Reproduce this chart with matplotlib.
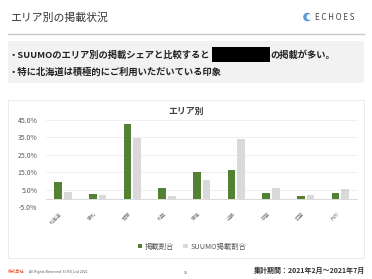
import matplotlib
matplotlib.use("Agg")
import matplotlib.pyplot as plt
import numpy as np
from matplotlib.patches import Rectangle, Circle

plt.rcParams['font.family'] = ['Noto Sans CJK JP', 'DejaVu Sans']

categories = ["北海道", "東北", "関東", "北陸", "東海", "近畿", "中国", "四国", "九州"]
share = [9.4, 2.7, 42.9, 6.3, 15.3, 16.4, 3.0, 1.3, 3.2]
suumo_share = [4.0, 1.9, 34.6, 1.5, 10.5, 34.1, 6.1, 2.1, 5.5]
yticks = [-5, 5, 15, 25, 35, 45]
legend_labels = ["掲載割合", "SUUMO掲載割合"]

W, H = 372, 279
fig = plt.figure(figsize=(W / 100, H / 100), dpi=100)

bg = fig.add_axes([0, 0, 1, 1])
bg.set_xlim(0, W)
bg.set_ylim(H, 0)
bg.axis('off')

# header
bg.text(10, 18, "エリア別の掲載状況", fontsize=7.8, color='#333333', va='center', ha='left')
bg.add_patch(Circle((307.5, 17), 3.6, color='#5b9bd5'))
bg.add_patch(Circle((309.5, 17), 2.2, color='white'))
bg.text(315, 17.5, "E C H O E S", fontsize=5.7, color='#444444', va='center', ha='left')
bg.plot([8, 364], [34, 34], color='#c8c8c8', lw=1)

# summary box
bg.add_patch(Rectangle((8, 41), 356, 42, color='#f2f2f2', lw=0))
bg.text(8, 55, "・SUUMOのエリア別の掲載シェアと比較すると", fontsize=6.7, color='#222222',
        va='center', ha='left', fontweight='bold')
bg.add_patch(Rectangle((212, 47), 58, 15, color='black', lw=0))
bg.text(270, 55, "の掲載が多い。", fontsize=6.7, color='#222222', va='center', ha='left', fontweight='bold')
bg.text(8, 72, "・特に北海道は積極的にご利用いただいている印象", fontsize=6.7, color='#222222',
        va='center', ha='left', fontweight='bold')

# chart frame
bg.add_patch(Rectangle((8, 100), 356, 158, facecolor='white', edgecolor='#e6e6e6', lw=0.6))
bg.text(186, 111, "エリア別", fontsize=6.4, color='#404040', va='center', ha='center', fontweight='bold')

# footer
bg.text(8, 272, "株式会社", fontsize=3, color='#e8502e', va='center', ha='left')
bg.text(29, 272, "All Rights Reserved  S I R E,Ltd 2021", fontsize=2.6, color='#555555', va='center', ha='left')
bg.text(186, 273, "16", fontsize=2.6, color='#555555', va='center', ha='center')
bg.text(365, 270, "集計期間：2021年2月～2021年7月", fontsize=5, color='#333333', va='center',
        ha='right', fontweight='bold')

# chart axes
ax = fig.add_axes([45.7 / W, 1 - 207.3 / H, (357.6 - 45.7) / W, (207.3 - 120) / H])
x = np.arange(len(categories))
bw = 0.22
ax.bar(x - 0.14, share, width=bw, color='#548235', label=legend_labels[0], zorder=3)
ax.bar(x + 0.14, suumo_share, width=bw, color='#d9d9d9', label=legend_labels[1], zorder=3)
ax.set_xlim(-0.5, len(categories) - 0.5)
ax.set_ylim(-5, 45)
ax.set_yticks(yticks)
ax.set_yticklabels([f"{v:.1f}%" for v in yticks], fontsize=5, color='#595959')
ax.yaxis.grid(True, color='#ececec', lw=0.6, zorder=0)
ax.axhline(0, color='#d9d9d9', lw=0.7, zorder=2)
for s in ax.spines.values():
    s.set_visible(False)
ax.tick_params(axis='y', length=0, pad=6)
ax.tick_params(axis='x', length=0, pad=3)
ax.set_xticks(x)
ax.set_xticklabels(categories, rotation=45, ha='right', fontsize=3.5, color='#777777')
ax.set_facecolor('none')

leg = ax.legend(loc='upper center', bbox_to_anchor=(0.47, -0.33), ncol=2, frameon=False,
                fontsize=5.3, handlelength=0.6, handleheight=0.6, columnspacing=1.2,
                handletextpad=0.4, labelcolor='#595959')

fig.savefig("out.png", dpi=100)
